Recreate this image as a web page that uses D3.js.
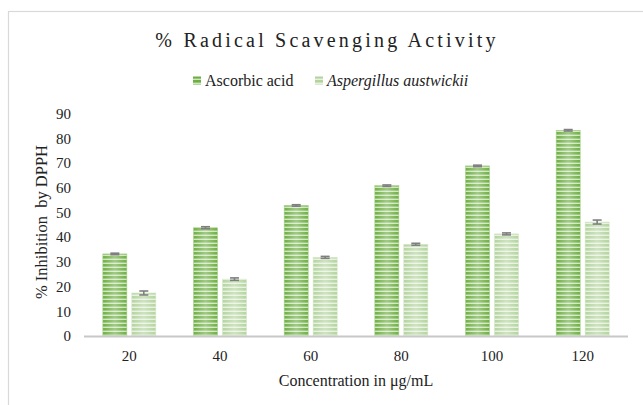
<!DOCTYPE html>
<html><head><meta charset="utf-8">
<script src="https://cdn.jsdelivr.net/npm/d3@7"></script>
<style>body{margin:0;background:#fff}svg{display:block}</style>
</head><body>
<script>
const categories = ["20","40","60","80","100","120"];
const seriesNames = ["Ascorbic acid","Aspergillus austwickii"];
const ascorbic = [33.2, 43.8, 52.8, 60.8, 68.8, 83.2];
const aspergillus = [17.4, 23.0, 31.8, 37.1, 41.3, 46.1];
const ascorbicErr = [0.3, 0.4, 0.3, 0.3, 0.3, 0.3];
const aspergillusErr = [0.8, 0.5, 0.4, 0.4, 0.4, 0.8];
const yTicks = [0,10,20,30,40,50,60,70,80,90];

const W = 643, H = 405;
const svg = d3.select("body").append("svg").attr("width", W).attr("height", H);
const defs = svg.append("defs");

function stripes(id, dark, mid, light) {
  const p = defs.append("pattern").attr("id", id).attr("patternUnits", "userSpaceOnUse")
    .attr("width", 8).attr("height", 4);
  p.append("rect").attr("width", 8).attr("height", 4).attr("fill", light);
  p.append("rect").attr("y", 0).attr("width", 8).attr("height", 2).attr("fill", dark);
  p.append("rect").attr("y", 2).attr("width", 8).attr("height", 1).attr("fill", mid);
}
stripes("pA", "#6fae45", "#93c672", "#cfe6bf");
stripes("pB", "#b4d49f", "#c9e0b9", "#e6f1de");
const g = defs.append("linearGradient").attr("id", "shine").attr("x1", 0).attr("x2", 1).attr("y1", 0).attr("y2", 0);
g.append("stop").attr("offset", "0%").attr("stop-color", "#fff").attr("stop-opacity", 0);
g.append("stop").attr("offset", "50%").attr("stop-color", "#fff").attr("stop-opacity", 0.35);
g.append("stop").attr("offset", "100%").attr("stop-color", "#fff").attr("stop-opacity", 0);

// chart border
svg.append("rect").attr("x", 8.5).attr("y", 11.5).attr("width", 660).attr("height", 420)
  .attr("fill", "none").attr("stroke", "#d9d9d9").attr("stroke-width", 1.2);

const x0 = d3.scaleBand().domain(categories).range([84, 628]).paddingInner(0).paddingOuter(0);
const x1 = d3.scaleBand().domain(seriesNames).range([0, x0.bandwidth()]).paddingInner(0.17).paddingOuter(0.65);
const y = d3.scaleLinear().domain([0, 90]).range([336, 113.5]);

const series = [
  {name: seriesNames[0], vals: ascorbic, err: ascorbicErr, fill: "url(#pA)", edge: "#a9d18e"},
  {name: seriesNames[1], vals: aspergillus, err: aspergillusErr, fill: "url(#pB)", edge: "#d5e8c8"}
];

const font = "'Liberation Serif','Times New Roman',serif";

series.forEach(s => {
  const gg = svg.append("g");
  gg.selectAll("rect.bar").data(categories).join("rect").attr("class","bar")
    .attr("x", (c) => x0(c) + x1(s.name))
    .attr("y", (c, i) => y(s.vals[i]))
    .attr("width", x1.bandwidth())
    .attr("height", (c, i) => y(0) - y(s.vals[i]))
    .attr("fill", s.fill);
  gg.selectAll("rect.sh").data(categories).join("rect").attr("class","sh")
    .attr("x", (c) => x0(c) + x1(s.name))
    .attr("y", (c, i) => y(s.vals[i]))
    .attr("width", x1.bandwidth())
    .attr("height", (c, i) => y(0) - y(s.vals[i]))
    .attr("fill", "url(#shine)")
    .attr("stroke", s.edge).attr("stroke-width", 0.6);
  categories.forEach((c, i) => {
    const cx = x0(c) + x1(s.name) + x1.bandwidth() / 2;
    const v = s.vals[i], e = s.err[i];
    const eg = gg.append("g").attr("stroke", "#7f7f7f").attr("stroke-width", 1.6);
    eg.append("line").attr("x1", cx).attr("x2", cx).attr("y1", y(v + e)).attr("y2", y(v - e));
    eg.append("line").attr("x1", cx - 4.5).attr("x2", cx + 4.5).attr("y1", y(v + e)).attr("y2", y(v + e));
    eg.append("line").attr("x1", cx - 4.5).attr("x2", cx + 4.5).attr("y1", y(v - e)).attr("y2", y(v - e));
  });
});

// x axis line
svg.append("line").attr("x1", 84).attr("x2", 628).attr("y1", y(0) + 0.5).attr("y2", y(0) + 0.5)
  .attr("stroke", "#c8c8c8").attr("stroke-width", 2);

const xAxis = svg.append("g").attr("transform", `translate(0,${y(0)})`)
  .call(d3.axisBottom(x0).tickSize(0).tickPadding(14));
xAxis.select(".domain").remove();
xAxis.selectAll("text").attr("font-family", font).attr("font-size", 15).attr("fill", "#222");

const yAxis = svg.append("g").attr("transform", "translate(78,0)")
  .call(d3.axisLeft(y).tickValues(yTicks).tickSize(0).tickPadding(7));
yAxis.select(".domain").remove();
yAxis.selectAll("text").attr("font-family", font).attr("font-size", 15).attr("fill", "#222");

svg.append("text").attr("x", 327).attr("y", 47).attr("text-anchor", "middle")
  .attr("font-family", font).attr("font-size", 20).attr("letter-spacing", 3.2).attr("fill", "#222")
  .text("% Radical Scavenging Activity");
svg.append("text").attr("x", 356).attr("y", 386).attr("text-anchor", "middle")
  .attr("font-family", font).attr("font-size", 16).attr("fill", "#222")
  .text("Concentration in μg/mL");
svg.append("text").attr("transform", "translate(47,222) rotate(-90)").attr("text-anchor", "middle")
  .attr("font-family", font).attr("font-size", 16.5).attr("fill", "#222")
  .style("white-space", "pre")
  .text("% Inhibition  by DPPH");

const legend = [
  {name: seriesNames[0], x: 193, fill: "url(#pA)", italic: false},
  {name: seriesNames[1], x: 315, fill: "url(#pB)", italic: true}
];
legend.forEach(l => {
  svg.append("rect").attr("x", l.x).attr("y", 76.5).attr("width", 8).attr("height", 8).attr("fill", l.fill);
  svg.append("text").attr("x", l.x + 12).attr("y", 85.5).attr("font-family", font).attr("font-size", 16)
    .attr("font-style", l.italic ? "italic" : "normal").attr("fill", "#222").text(l.name);
});
</script>
</body></html>
